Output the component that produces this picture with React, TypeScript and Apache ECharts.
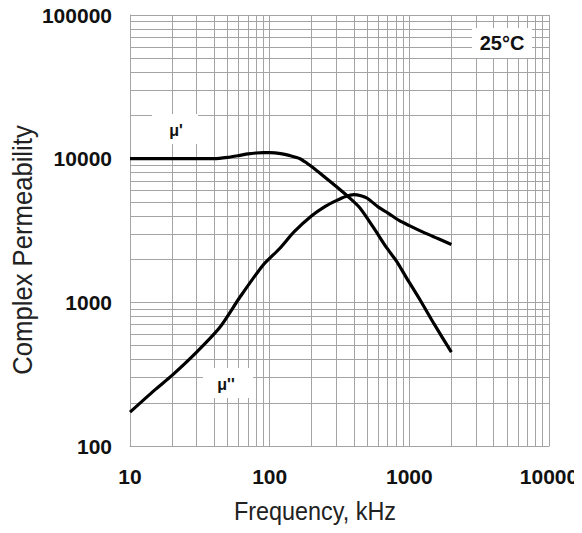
import React, { useEffect, useRef } from "react";
import * as echarts from "echarts";

const muPrimeFreq = [10, 20, 30, 40, 50, 60, 70, 80, 90, 100, 120, 140, 165, 185, 205, 250, 300, 360, 440, 550, 685, 820, 950, 1200, 1500, 2000];
const muPrimeVals = [10000, 10000, 10000, 10000, 10200, 10500, 10800, 10950, 11000, 11000, 10850, 10500, 10000, 9300, 8650, 7400, 6400, 5500, 4570, 3350, 2410, 1900, 1490, 1030, 710, 450];

const muDoubleFreq = [10, 15, 20, 30, 44, 61, 89, 118, 150, 200, 250, 300, 350, 400, 450, 500, 600, 700, 850, 1000, 1300, 1600, 2000];
const muDoubleVals = [172, 245, 310, 450, 670, 1080, 1800, 2370, 3100, 4000, 4650, 5100, 5450, 5620, 5520, 5300, 4600, 4200, 3700, 3420, 3030, 2780, 2530];

const xTicks = [10, 100, 1000, 10000];
const yTicks = [100, 1000, 10000, 100000];
const seriesLabels = ["μ'", "μ''"];
const tempLabel = "25°C";
const xTitle = "Frequency, kHz";
const yTitle = "Complex Permeability";

const minorOf = (ticks: number[]) => {
  const out: number[] = [];
  for (let i = 0; i < ticks.length - 1; i++) {
    for (let m = 2; m <= 9; m++) out.push(ticks[i] * m);
  }
  return out;
};

const GRID = "#a4a4a4";
const tickFont = "'Liberation Sans', Arial, sans-serif";

export default function App() {
  const ref = useRef<HTMLDivElement>(null);
  useEffect(() => {
    if (!ref.current) return;
    const chart = echarts.init(ref.current, undefined, { renderer: "svg" });
    const xMinor = minorOf(xTicks);
    const yMinor = minorOf(yTicks);
    const labelStyle = {
      color: "#111",
      fontWeight: "bold",
      fontSize: 21,
      fontFamily: tickFont,
      formatter: (v: number) => String(v),
    };
    chart.setOption({
      animation: false,
      backgroundColor: "#fff",
      grid: { left: 130, right: 33, top: 15, bottom: 87, containLabel: false },
      xAxis: {
        type: "log",
        logBase: 10,
        min: xTicks[0],
        max: xTicks[xTicks.length - 1],
        axisLine: { show: true, lineStyle: { color: GRID, width: 1 } },
        axisTick: { show: false },
        axisLabel: { ...labelStyle, margin: 20 },
        splitLine: { show: true, lineStyle: { color: GRID, width: 1 } },
      },
      yAxis: {
        type: "log",
        logBase: 10,
        min: yTicks[0],
        max: yTicks[yTicks.length - 1],
        axisLine: { show: true, lineStyle: { color: GRID, width: 1 } },
        axisTick: { show: false },
        axisLabel: { ...labelStyle, margin: 18 },
        splitLine: { show: true, lineStyle: { color: GRID, width: 1 } },
      },
      series: [
        {
          type: "line",
          data: [],
          silent: true,
          markLine: {
            silent: true,
            symbol: "none",
            label: { show: false },
            lineStyle: { color: GRID, width: 1, type: "solid" },
            emphasis: { disabled: true },
            data: [
              ...xMinor.map((v) => ({ xAxis: v })),
              ...yMinor.map((v) => ({ yAxis: v })),
            ],
          },
        },
        {
          name: seriesLabels[0],
          type: "line",
          data: muPrimeFreq.map((f, i) => [f, muPrimeVals[i]]),
          showSymbol: false,
          smooth: 0.25,
          lineStyle: { color: "#000", width: 3.2 },
          z: 5,
        },
        {
          name: seriesLabels[1],
          type: "line",
          data: muDoubleFreq.map((f, i) => [f, muDoubleVals[i]]),
          showSymbol: false,
          smooth: 0.25,
          lineStyle: { color: "#000", width: 3.2 },
          z: 5,
        },
      ],
      graphic: [
        { type: "rect", shape: { x: 152, y: 114, width: 46, height: 30 }, style: { fill: "#fff" }, z: 10 },
        { type: "text", x: 176, y: 130, style: { text: seriesLabels[0], fill: "#111", font: `bold 16px ${tickFont}`, align: "center", verticalAlign: "middle" }, z: 11 },
        { type: "rect", shape: { x: 203, y: 368, width: 50, height: 30 }, style: { fill: "#fff" }, z: 10 },
        { type: "text", x: 226, y: 384, style: { text: seriesLabels[1], fill: "#111", font: `bold 16px ${tickFont}`, align: "center", verticalAlign: "middle" }, z: 11 },
        { type: "rect", shape: { x: 472, y: 28, width: 60, height: 30 }, style: { fill: "#fff" }, z: 10 },
        { type: "text", x: 502, y: 43, style: { text: tempLabel, fill: "#111", font: `bold 20px ${tickFont}`, align: "center", verticalAlign: "middle" }, z: 11 },
        { type: "text", x: 315, y: 511, scaleX: 0.9, style: { text: xTitle, fill: "#222", font: `26px ${tickFont}`, align: "center", verticalAlign: "middle" }, z: 11 },
        { type: "text", x: 23, y: 250, rotation: Math.PI / 2, scaleX: 0.95, style: { text: yTitle, fill: "#222", font: `27px ${tickFont}`, align: "center", verticalAlign: "middle" }, z: 11 },
      ],
    });
    return () => chart.dispose();
  }, []);
  return <div ref={ref} style={{ width: 582, height: 533, margin: -8 }} />;
}
